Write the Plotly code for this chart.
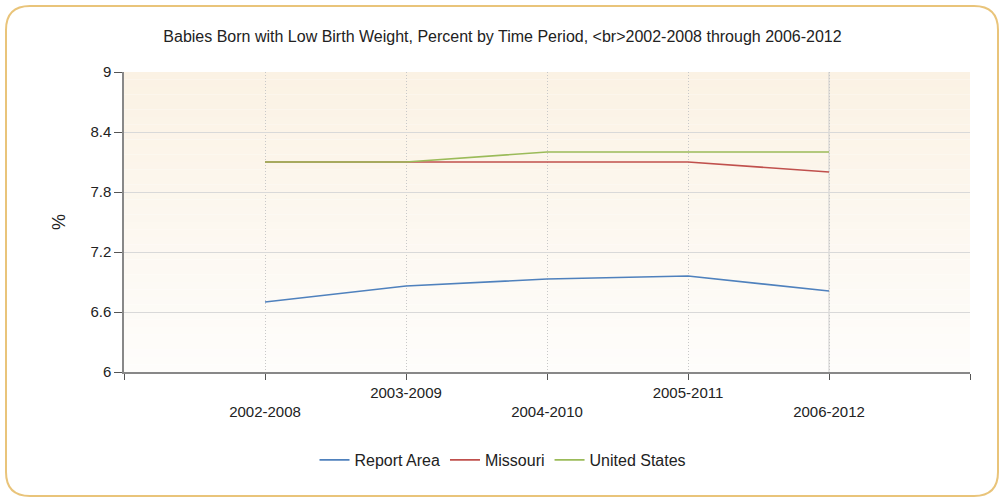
import plotly.graph_objects as go

periods = ["2002-2008", "2003-2009", "2004-2010", "2005-2011", "2006-2012"]
report_area = [6.7, 6.86, 6.93, 6.96, 6.81]
missouri = [8.1, 8.1, 8.1, 8.1, 8.0]
united_states = [8.1, 8.1, 8.2, 8.2, 8.2]
y_ticks = [6, 6.6, 7.2, 7.8, 8.4, 9]

W, H = 1005, 500
L, R, T, B = 124, 35, 72, 128
pw, ph = W - L - R, H - T - B

def px(x):
    return (x - L) / pw

def py(y):
    return (H - B - y) / ph

fig = go.Figure()

idx = list(range(len(periods)))
for name, vals, col in [("Report Area", report_area, "#4f81bd"),
                        ("Missouri", missouri, "#c0504d"),
                        ("United States", united_states, "#9bbb59")]:
    fig.add_trace(go.Scatter(x=idx, y=vals, name=name, mode="lines",
                             line=dict(color=col, width=1.6)))

# plot area gradient (cream at top to near white at bottom)
shapes = []
n = 40
top_c, bot_c = (251, 242, 228), (254, 253, 251)
for i in range(n):
    f = i / (n - 1)
    c = tuple(round(top_c[k] + (bot_c[k] - top_c[k]) * f) for k in range(3))
    shapes.append(dict(type="rect", xref="x domain", yref="y domain",
                       x0=0, x1=1, y0=1 - (i + 1) / n, y1=1 - i / n,
                       fillcolor="rgb(%d,%d,%d)" % c, line_width=0, layer="below"))

# rounded border around the whole chart
x0, x1, y0, y1, r = 6, 998, 6, 496, 24
path = ("M {a},{b} L {c},{b} Q {d},{b} {d},{e} L {d},{f} Q {d},{g} {c},{g} "
        "L {a},{g} Q {h},{g} {h},{f} L {h},{e} Q {h},{b} {a},{b} Z").format(
    a=px(x0 + r), b=py(y0), c=px(x1 - r), d=px(x1), e=py(y0 + r),
    f=py(y1 - r), g=py(y1), h=px(x0))
shapes.append(dict(type="path", xref="paper", yref="paper", path=path,
                   line=dict(color="#e9c47a", width=2), layer="below"))
# solid grid line at last period
shapes.append(dict(type="line", xref="x", yref="y domain", x0=4, x1=4, y0=0, y1=1,
                   line=dict(color="#cfcfcf", width=1), layer="below"))

ticktext = [""]
for i, p in enumerate(periods):
    ticktext.append("<br>" + p if i % 2 == 0 else p)
ticktext.append("")

fig.update_layout(
    width=W, height=H,
    margin=dict(l=L, r=R, t=T, b=B, autoexpand=False),
    paper_bgcolor="white",
    plot_bgcolor="rgba(0,0,0,0)",
    font=dict(family="Liberation Sans, Arial, sans-serif", size=15, color="#222"),
    title=dict(text="Babies Born with Low Birth Weight, Percent by Time Period, &lt;br&gt;2002-2008 through 2006-2012",
               x=0.5, xanchor="center", y=1 - 36 / H, yanchor="middle",
               font=dict(size=16, color="#222")),
    xaxis=dict(range=[-1, 5], tickvals=list(range(-1, 6)), ticktext=ticktext,
               showgrid=True, gridcolor="#c8c8c8", griddash="1px,2px", gridwidth=1,
               showline=True, linecolor="#888", linewidth=1.5,
               ticks="outside", ticklen=6, tickcolor="#555", zeroline=False,
               automargin=False),
    yaxis=dict(range=[6, 9], tickvals=y_ticks, ticktext=["6", "6.6", "7.2", "7.8", "8.4", "9"],
               title=dict(text="%", standoff=20),
               showgrid=True, gridcolor="#d9d9d9", gridwidth=1,
               showline=True, linecolor="#888", linewidth=1.5,
               ticks="outside", ticklen=8, tickcolor="#555", zeroline=False,
               automargin=False),
    legend=dict(orientation="h", x=px(503), xanchor="center", y=py(460), yanchor="middle",
                font=dict(size=16), itemwidth=30, bgcolor="rgba(0,0,0,0)"),
    shapes=shapes,
)

fig.write_html("out.html", config={"displayModeBar": False},
               post_script="document.body.style.margin = '0';")
